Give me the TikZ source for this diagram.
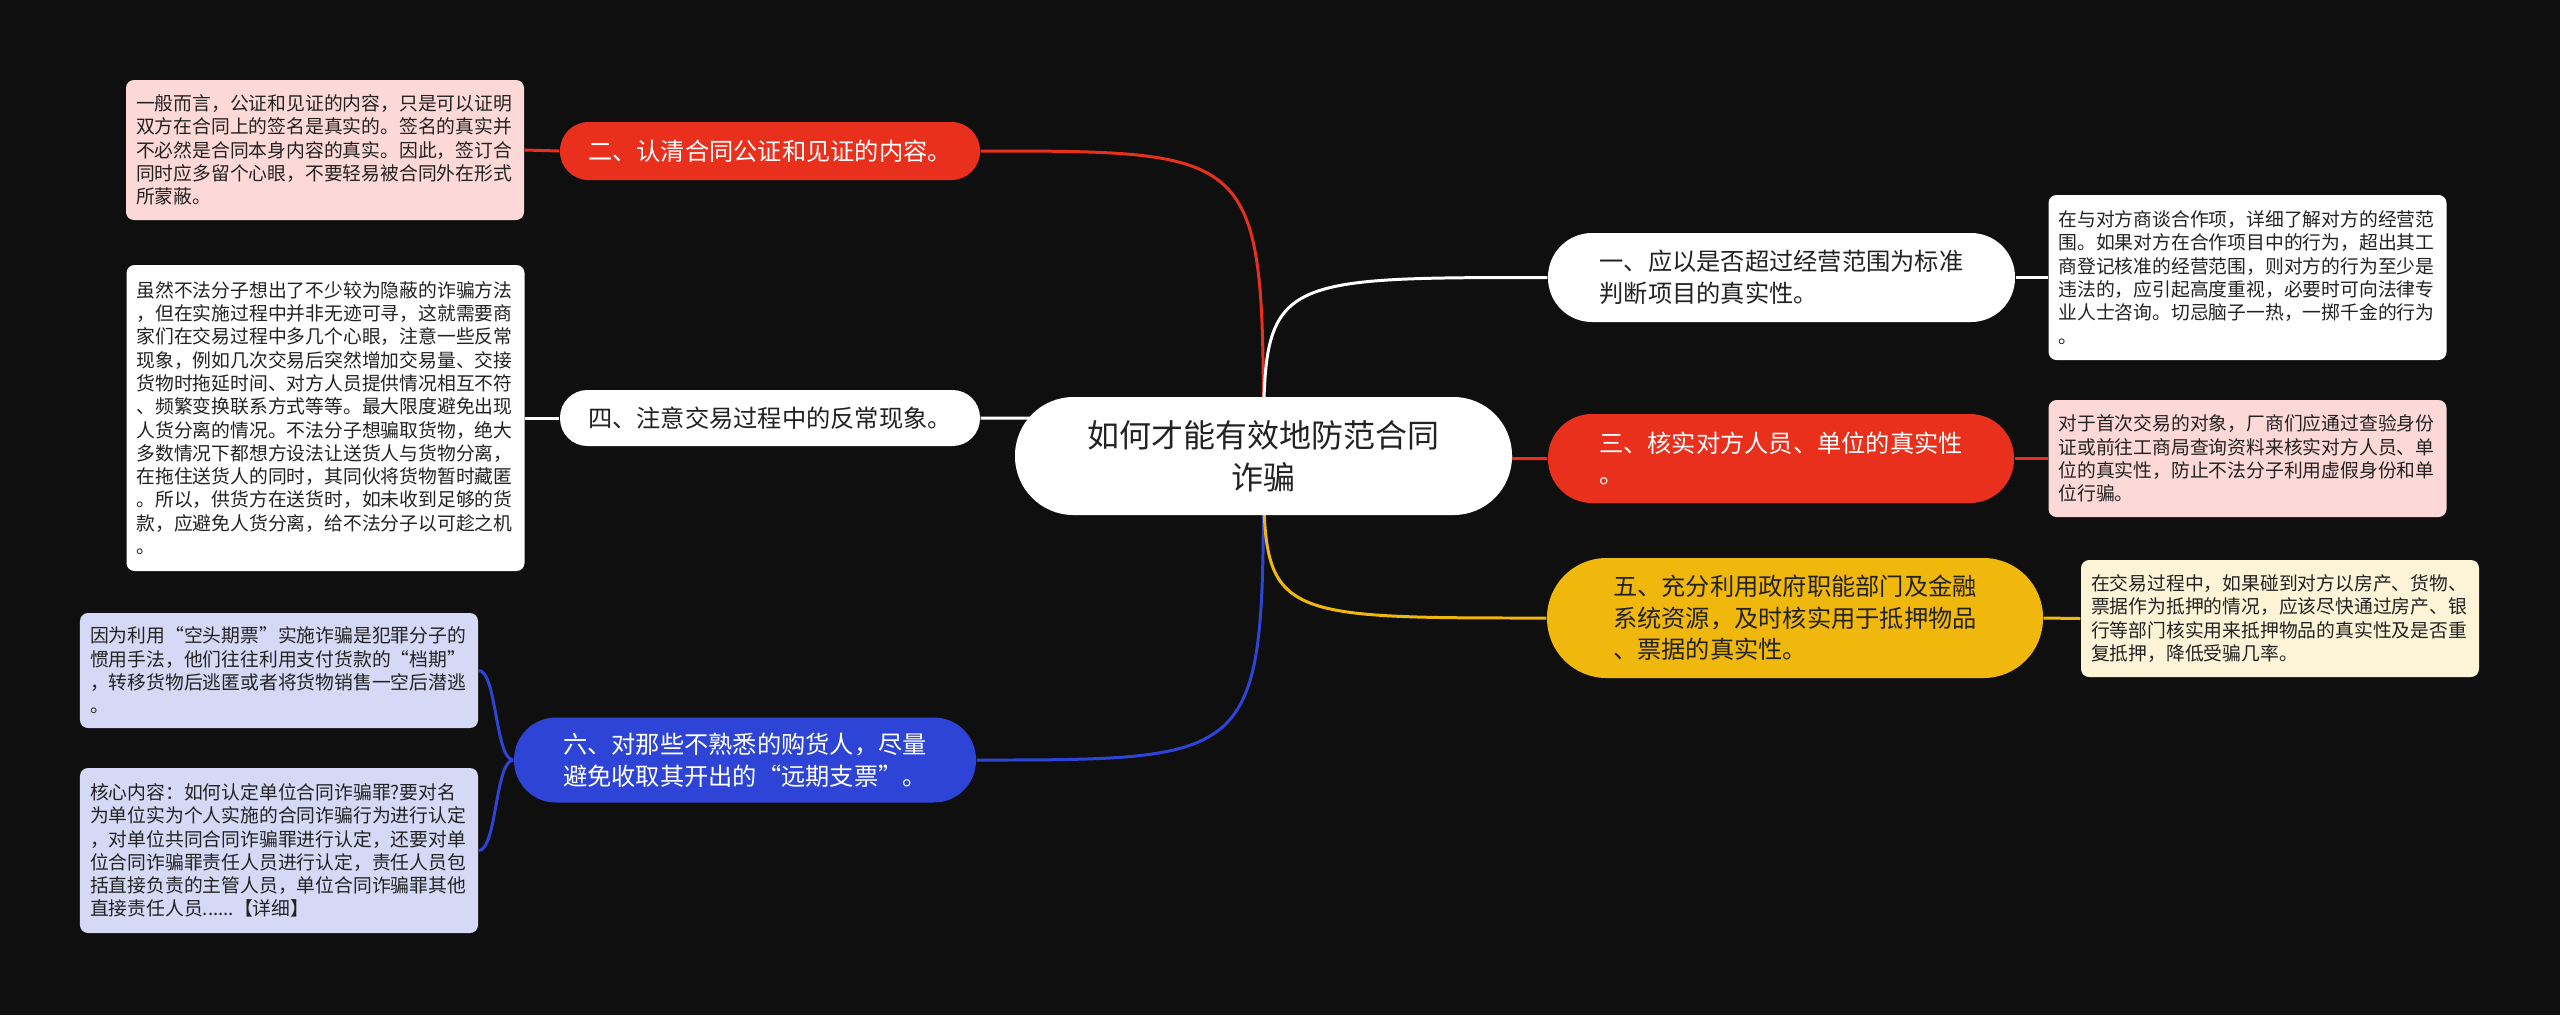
\documentclass[tikz,border=0pt]{standalone}
\usepackage{fontspec}
\setmainfont{Noto Sans CJK SC}
\definecolor{bgc}{HTML}{0F0F10}
\definecolor{mred}{HTML}{E8301C}
\definecolor{mblue}{HTML}{2E44D6}
\definecolor{myel}{HTML}{F0B80C}
\definecolor{lred}{HTML}{FCD9D6}
\definecolor{lblue}{HTML}{D6D9F5}
\definecolor{lyel}{HTML}{FDF3D6}
\definecolor{ink}{HTML}{222222}
\pgfdeclarelayer{back}
\pgfsetlayers{back,main}

\begin{document}
\begin{tikzpicture}[
  link/.style={line width=0.85pt},
  topic/.style={rectangle, fill=#1, align=left, font=\fontsize{6.9pt}{9pt}\selectfont},
  leaf/.style={rectangle, fill=#1, rounded corners=0.08cm, inner xsep=0.1cm, text width=3.78cm,
    align=left, text=ink, font=\fontsize{5.35pt}{6.63pt}\selectfont}
]
  \useasboundingbox (0,0) rectangle (25.6,-10.15);

  % Central topic
  \node[fill=white, text=ink, minimum width=4.97cm, minimum height=1.18cm, rounded corners=0.585cm,
    align=center, font=\fontsize{9.1pt}{11.9pt}\selectfont] (root) at (12.635,-4.56)
    {如何才能有效地防范合同\\诈骗};

  % Main topics, left
  \node[topic=mred, text=white, minimum width=4.2cm, minimum height=0.58cm, rounded corners=0.285cm]
    (t2) at (7.7,-1.51) {二、认清合同公证和见证的内容。};
  \node[topic=white, text=ink, minimum width=4.2cm, minimum height=0.56cm, rounded corners=0.275cm]
    (t4) at (7.7,-4.18) {四、注意交易过程中的反常现象。};
  \node[topic=mblue, text=white, minimum width=4.62cm, minimum height=0.85cm, rounded corners=0.42cm]
    (t6) at (7.45,-7.6) {六、对那些不熟悉的购货人，尽量\\避免收取其开出的“远期支票”。};

  % Main topics, right
  \node[topic=white, text=ink, minimum width=4.67cm, minimum height=0.89cm, rounded corners=0.44cm]
    (t1) at (17.815,-2.775) {一、应以是否超过经营范围为标准\\判断项目的真实性。};
  \node[topic=mred, text=white, minimum width=4.66cm, minimum height=0.89cm, rounded corners=0.44cm]
    (t3) at (17.81,-4.585) {三、核实对方人员、单位的真实性\\。};
  \node[topic=myel, text=ink, minimum width=4.96cm, minimum height=1.2cm, rounded corners=0.595cm]
    (t5) at (17.95,-6.18) {五、充分利用政府职能部门及金融\\系统资源，及时核实用于抵押物品\\、票据的真实性。};

  % Details
  \node[leaf=lred, minimum height=1.4cm] (l2) at (3.25,-1.5)
    {一般而言，公证和见证的内容，只是可以证明\\双方在合同上的签名是真实的。签名的真实并\\不必然是合同本身内容的真实。因此，签订合\\同时应多留个心眼，不要轻易被合同外在形式\\所蒙蔽。};
  \node[leaf=white, minimum height=3.06cm] (l4) at (3.255,-4.18)
    {虽然不法分子想出了不少较为隐蔽的诈骗方法\\，但在实施过程中并非无迹可寻，这就需要商\\家们在交易过程中多几个心眼，注意一些反常\\现象，例如几次交易后突然增加交易量、交接\\货物时拖延时间、对方人员提供情况相互不符\\、频繁变换联系方式等等。最大限度避免出现\\人货分离的情况。不法分子想骗取货物，绝大\\多数情况下都想方设法让送货人与货物分离，\\在拖住送货人的同时，其同伙将货物暂时藏匿\\。所以，供货方在送货时，如未收到足够的货\\款，应避免人货分离，给不法分子以可趁之机\\。};
  \node[leaf=lblue, minimum height=1.15cm] (l6a) at (2.79,-6.705)
    {因为利用“空头期票”实施诈骗是犯罪分子的\\惯用手法，他们往往利用支付货款的“档期”\\，转移货物后逃匿或者将货物销售一空后潜逃\\。};
  \node[leaf=lblue, minimum height=1.65cm] (l6b) at (2.79,-8.505)
    {核心内容：如何认定单位合同诈骗罪?要对名\\为单位实为个人实施的合同诈骗行为进行认定\\，对单位共同合同诈骗罪进行认定，还要对单\\位合同诈骗罪责任人员进行认定，责任人员包\\括直接负责的主管人员，单位合同诈骗罪其他\\直接责任人员......【详细】};
  \node[leaf=white, minimum height=1.65cm] (l1) at (22.475,-2.775)
    {在与对方商谈合作项，详细了解对方的经营范\\围。如果对方在合作项目中的行为，超出其工\\商登记核准的经营范围，则对方的行为至少是\\违法的，应引起高度重视，必要时可向法律专\\业人士咨询。切忌脑子一热，一掷千金的行为\\。};
  \node[leaf=lred, minimum height=1.17cm] (l3) at (22.475,-4.585)
    {对于首次交易的对象，厂商们应通过查验身份\\证或前往工商局查询资料来核实对方人员、单\\位的真实性，防止不法分子利用虚假身份和单\\位行骗。};
  \node[leaf=lyel, minimum height=1.17cm] (l5) at (22.8,-6.185)
    {在交易过程中，如果碰到对方以房产、货物、\\票据作为抵押的情况，应该尽快通过房产、银\\行等部门核实用来抵押物品的真实性及是否重\\复抵押，降低受骗几率。};

  % Connectors
  \begin{pgfonlayer}{back}
    \fill[bgc] (0,0) rectangle (25.6,-10.15);
    \foreach \tp/\sd/\col in {t2/east/mred, t4/east/white, t6/east/mblue,
                              t1/west/white, t3/west/mred, t5/west/myel}{
      \draw[link, \col] (root.center) .. controls (root.center |- \tp.\sd) .. (\tp.\sd);
    }
    \foreach \lf/\tp/\col in {l2/t2/mred, l4/t4/white}{
      \draw[link, \col] (\lf.east) -- (\tp.west);
    }
    \foreach \lf/\tp/\col in {l1/t1/white, l3/t3/mred, l5/t5/myel}{
      \draw[link, \col] (\tp.east) -- (\lf.west);
    }
    \foreach \lf in {l6a,l6b}{
      \draw[link, mblue] (t6.west) .. controls +(-0.18,0) and +(0.18,0) .. (\lf.east);
    }
  \end{pgfonlayer}
\end{tikzpicture}
\end{document}
